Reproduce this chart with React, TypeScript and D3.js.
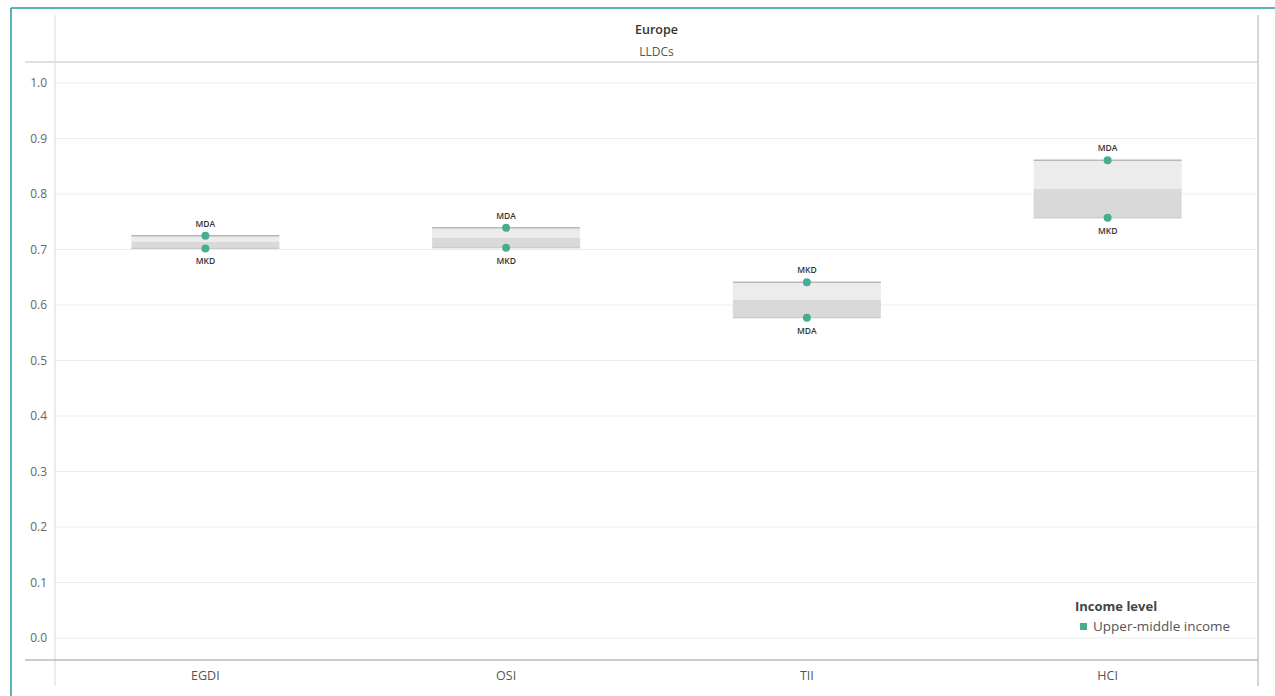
import React from "react";
import * as d3 from "d3";

const categories = ["EGDI", "OSI", "TII", "HCI"];
const mdaValues = [0.725, 0.739, 0.577, 0.861];
const mkdValues = [0.702, 0.703, 0.641, 0.757];
const yTicks = [0, 0.1, 0.2, 0.3, 0.4, 0.5, 0.6, 0.7, 0.8, 0.9, 1.0];
const regionTitle = "Europe";
const groupTitle = "LLDCs";
const legendTitle = "Income level";
const legendItems = ["Upper-middle income"];

const W = 1275;
const H = 696;
const left = 55;
const right = 1258;
const teal = "#46ad92";

export default function App() {
  const y = d3.scaleLinear().domain([0, 1]).range([638, 83]);
  const x = d3.scaleBand().domain(categories).range([left, right]);
  const font = "'Open Sans', 'Noto Sans', sans-serif";

  const panes = categories.map((c, i) => {
    const cx = (x(c) as number) + x.bandwidth() / 2;
    const pts = [
      { code: "MDA", v: mdaValues[i] },
      { code: "MKD", v: mkdValues[i] },
    ];
    const hi = d3.max(pts, (p) => p.v) as number;
    const lo = d3.min(pts, (p) => p.v) as number;
    const avg = d3.mean(pts, (p) => p.v) as number;
    const bx0 = cx - 74;
    const bx1 = cx + 74;
    return (
      <g key={c}>
        <rect x={bx0} y={y(hi)} width={bx1 - bx0} height={y(avg) - y(hi)} fill="#ececec" />
        <rect x={bx0} y={y(avg)} width={bx1 - bx0} height={y(lo) - y(avg)} fill="#d9d9d9" />
        <line x1={bx0} x2={bx1} y1={y(hi)} y2={y(hi)} stroke="#b8b8b8" strokeWidth={1.5} />
        <line x1={bx0} x2={bx1} y1={y(lo)} y2={y(lo)} stroke="#c4c4c4" strokeWidth={1} />
        {pts.map((p) => {
          const top = p.v === hi;
          return (
            <g key={p.code}>
              <circle cx={cx} cy={y(p.v)} r={4} fill={teal} />
              <text
                x={cx}
                y={top ? y(p.v) - 9 : y(p.v) + 16}
                textAnchor="middle"
                fontSize={8.5}
                fontWeight={600}
                fill="#333"
                fontFamily={font}
              >
                {p.code}
              </text>
            </g>
          );
        })}
        <text x={cx} y={680} textAnchor="middle" fontSize={12.5} fill="#555" fontFamily={font}>
          {c}
        </text>
      </g>
    );
  });

  return (
    <svg width={W} height={H} style={{ position: "absolute", left: 0, top: 0 }}>
      <rect x={0} y={0} width={W} height={H} fill="#ffffff" />
      {/* frame */}
      <line x1={11} x2={W} y1={8} y2={8} stroke="#23999a" strokeWidth={1.5} />
      <line x1={11} x2={11} y1={8} y2={H} stroke="#23999a" strokeWidth={1.5} />
      {/* header */}
      <text x={(left + right) / 2} y={34} textAnchor="middle" fontSize={12.5} fontWeight={600} fill="#333" fontFamily={font}>
        {regionTitle}
      </text>
      <text x={(left + right) / 2} y={56} textAnchor="middle" fontSize={12} fill="#555" fontFamily={font}>
        {groupTitle}
      </text>
      <line x1={25} x2={right} y1={62} y2={62} stroke="#d6d6d6" strokeWidth={1.5} />
      {/* gridlines */}
      {yTicks.map((t) => (
        <g key={t}>
          <line x1={left} x2={right} y1={y(t)} y2={y(t)} stroke="#ececec" strokeWidth={1} />
          <text x={47} y={y(t) + 4} textAnchor="end" fontSize={12} fill="#666" fontFamily={font}>
            {d3.format(".1f")(t)}
          </text>
        </g>
      ))}
      {/* axes */}
      <line x1={left} x2={left} y1={15} y2={686} stroke="#d9d9d9" strokeWidth={1} />
      <line x1={right} x2={right} y1={15} y2={686} stroke="#c8c8c8" strokeWidth={1.5} />
      <line x1={25} x2={right} y1={660} y2={660} stroke="#9a9a9a" strokeWidth={1} />
      {panes}
      {/* legend */}
      <text x={1075} y={611} fontSize={13} fontWeight={700} fill="#444" fontFamily={font}>
        {legendTitle}
      </text>
      {legendItems.map((item, i) => (
        <g key={item}>
          <rect x={1080} y={623 + i * 16} width={7} height={7} fill={teal} />
          <text x={1093} y={631 + i * 16} fontSize={13.5} fill="#555" fontFamily={font}>
            {item}
          </text>
        </g>
      ))}
    </svg>
  );
}
